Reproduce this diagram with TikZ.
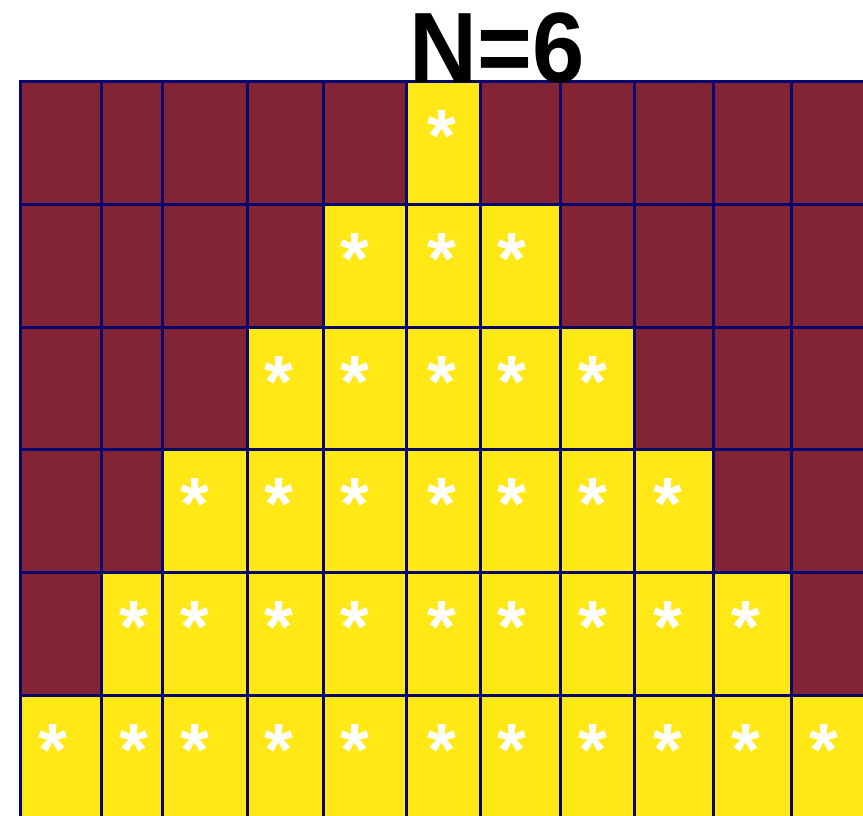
\documentclass[tikz,border=0pt]{standalone}
\usepackage{fontspec}
\setmainfont{Liberation Sans}

\definecolor{cellred}{RGB}{130,36,52}
\definecolor{cellyellow}{RGB}{255,232,22}
\definecolor{gridblue}{RGB}{6,6,110}

\begin{document}
\begin{tikzpicture}[x=1pt, y=-1pt,
  cell/.style={draw=gridblue, line width=3pt},
  star/.style={text=white, inner sep=0, anchor=north, font=\bfseries\fontsize{74}{74}\selectfont}]
  \useasboundingbox (0,0) rectangle (863,815);
  \clip (0,0) rectangle (863,815);
  % rows from the top, columns from the left
  \foreach \r/\ya/\yb in {0/81/204, 1/204/327, 2/327/449, 3/449/572, 4/572/695, 5/695/840} {
    \foreach \c/\xa/\xb/\xm in {0/20/101/53, 1/101/162/134, 2/162/247/195, 3/247/323/279,
        4/323/406/355, 5/406/480/442, 6/480/560/512, 7/560/634/593, 8/634/713/668,
        9/713/791/746, 10/791/880/824} {
      \pgfmathtruncatemacro{\lit}{abs(\c-5)<=\r ? 1 : 0}
      \ifnum\lit=1
        \draw[cell, fill=cellyellow] (\xa,\ya) rectangle (\xb,\yb);
        \node[star] (s\r-\c) at (\xm,\ya+29) {*};
      \else
        \draw[cell, fill=cellred] (\xa,\ya) rectangle (\xb,\yb);
      \fi
    }
  }
  \node[inner sep=0, anchor=base, xscale=0.94, font=\bfseries\fontsize{100}{100}\selectfont] (title) at (497,82) {N=6};
\end{tikzpicture}
\end{document}
